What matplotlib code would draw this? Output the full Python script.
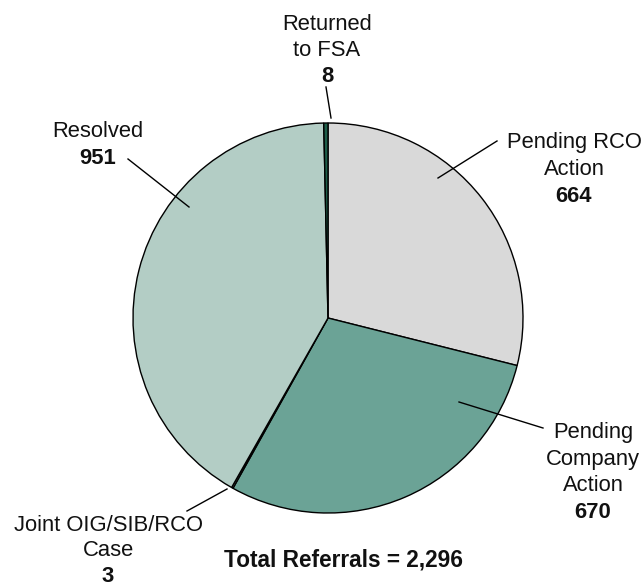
import matplotlib.pyplot as plt

# Données du graphique
categories = ['Pending RCO\nAction', 'Pending\nCompany\nAction', 'Joint OIG/SIB/RCO\nCase', 'Resolved', 'Returned\nto FSA']
values = [664, 670, 3, 951, 8]
colors = ['#d9d9d9', '#6ba396', '#b3cdc5', '#b3cdc5', '#1d5e49']
total_text = 'Total Referrals = 2,296'

W, H = 643, 586
plt.rcParams['font.family'] = ['Liberation Sans', 'DejaVu Sans']

fig = plt.figure(figsize=(W / 100, H / 100), dpi=100)
ax = fig.add_axes([0, 0, 1, 1])

# le camembert (centre et rayon en pixels, y vers le haut)
cx, cy, r = 328, H - 318, 195
ax.pie(values, colors=colors, startangle=90, counterclock=False,
       center=(cx, cy), radius=r, frame=True,
       wedgeprops=dict(edgecolor='black', linewidth=1.0))
ax.set_xlim(0, W)
ax.set_ylim(0, H)
ax.axis('off')

# position des étiquettes : (x centre, baseline de la 1re ligne, pas), ligne de rappel
layout = [
    (574, 148, 27, (497, 141), (438, 178)),
    (593, 438, 26.7, (543, 428), (459, 402)),
    (108, 531, 25.5, (187, 511), (227, 489)),
    (98, 137, 27, (128, 159), (189, 207)),
    (327, 30, 26, (326, 87), (331, 118)),
]

fs = 15.8
for cat, val, (x, y0, step, p1, p2) in zip(categories, values, layout):
    lines = cat.split('\n')
    for i, line in enumerate(lines):
        ax.text(x, H - (y0 + i * step), line, ha='center', va='baseline',
                fontsize=fs, color='#111111')
    ax.text(x, H - (y0 + len(lines) * step), f'{val:,}', ha='center', va='baseline',
            fontsize=fs, fontweight='bold', color='#111111')
    ax.plot([p1[0], p2[0]], [H - p1[1], H - p2[1]], color='black', lw=1.0)

ax.text(344, H - 566, total_text, ha='center', va='baseline',
        fontsize=16.3, fontweight='bold', color='#111111')

plt.savefig('out.png', dpi=100)
